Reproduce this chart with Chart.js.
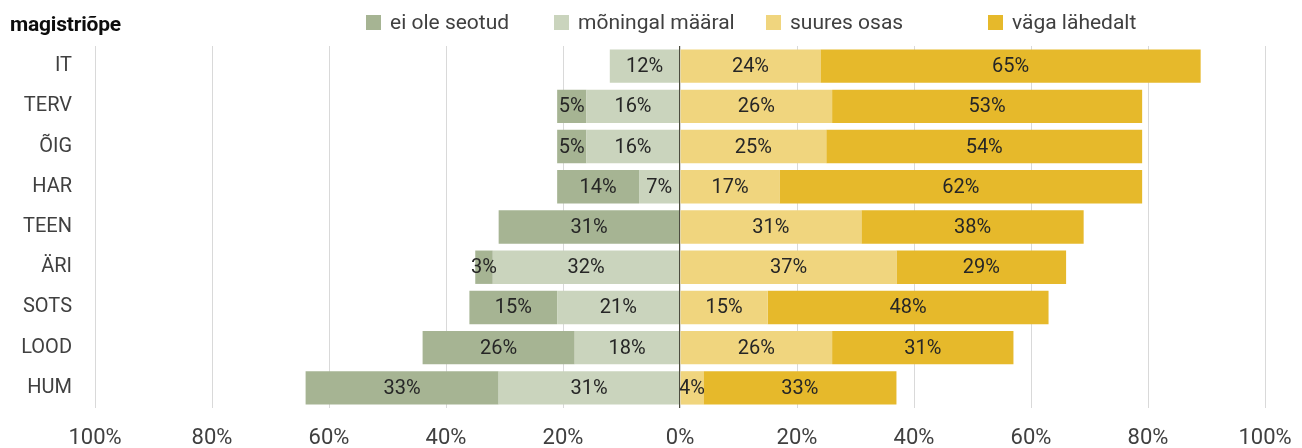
<!DOCTYPE html>
<html>
<head>
<meta charset="utf-8">
<script src="https://cdn.jsdelivr.net/npm/chart.js@4"></script>
<style>
  body { margin: 0; background: #fff; }
  #wrap { position: relative; width: 1302px; height: 448px; font-family: Roboto, sans-serif; color: #262626; }
  #title { position: absolute; left: 10px; top: 12px; font-weight: bold; font-size: 21px; color: #0d0d0d; letter-spacing: -0.2px; }
  .lg { position: absolute; top: 10px; display: flex; align-items: center; font-size: 21px; color: #404040; }
  .lg span.box { display: inline-block; width: 15px; height: 15px; margin-right: 9px; }
</style>
</head>
<body>
<div id="wrap">
  <div id="title">magistriõpe</div>
  <div id="legend"></div>
  <canvas id="graafik" width="1302" height="448"></canvas>
</div>
<script>
const kategooriad = ['IT', 'TERV', 'ÕIG', 'HAR', 'TEEN', 'ÄRI', 'SOTS', 'LOOD', 'HUM'];
const eiOleSeotud = [0, 5, 5, 14, 31, 3, 15, 26, 33];
const moningalMaaral = [12, 16, 16, 7, 0, 32, 21, 18, 31];
const suuresOsas = [24, 26, 25, 17, 31, 37, 15, 26, 4];
const vagaLahedalt = [65, 53, 54, 62, 38, 29, 48, 31, 33];
const seeriaNimed = ['ei ole seotud', 'mõningal määral', 'suures osas', 'väga lähedalt'];
const xTicks = [-100, -80, -60, -40, -20, 0, 20, 40, 60, 80, 100];

const varvid = ['#a6b493', '#cad4bd', '#f0d57e', '#e6b92b'];
const legendLeft = [366, 554, 766, 988];

// legend as html, same look as the excel one
const legendEl = document.getElementById('legend');
seeriaNimed.forEach(function (nimi, i) {
    const d = document.createElement('div');
    d.className = 'lg';
    d.style.left = legendLeft[i] + 'px';
    d.innerHTML = '<span class="box" style="background:' + varvid[i] + '"></span>' + nimi;
    legendEl.appendChild(d);
});

// values printed in the middle of each segment
const silditPlugin = {
    id: 'sildid',
    afterDatasetsDraw(chart) {
        const ctx = chart.ctx;
        ctx.save();
        ctx.font = '20px Roboto';
        ctx.fillStyle = '#262626';
        ctx.textAlign = 'center';
        ctx.textBaseline = 'middle';
        chart.data.datasets.forEach(function (ds, i) {
            const meta = chart.getDatasetMeta(i);
            meta.data.forEach(function (el, j) {
                const v = Math.abs(ds.data[j]);
                if (!v) return;
                const p = el.getProps(['x', 'base', 'y'], true);
                ctx.fillText(v + '%', (p.x + p.base) / 2, p.y + 1);
            });
        });
        // zero line on top of the bars
        const xs = chart.scales.x;
        const x0 = Math.round(xs.getPixelForValue(0)) - 0.5;
        ctx.strokeStyle = '#4d4d40';
        ctx.lineWidth = 1;
        ctx.beginPath();
        ctx.moveTo(x0, chart.chartArea.top);
        ctx.lineTo(x0, chart.chartArea.bottom);
        ctx.stroke();
        ctx.restore();
    }
};

const ctx = document.getElementById('graafik').getContext('2d');
new Chart(ctx, {
    type: 'bar',
    data: {
        labels: kategooriad,
        datasets: [
            { label: seeriaNimed[0], data: eiOleSeotud.map(v => -v), backgroundColor: varvid[0], order: 1 },
            { label: seeriaNimed[1], data: moningalMaaral.map(v => -v), backgroundColor: varvid[1], order: 0 },
            { label: seeriaNimed[2], data: suuresOsas, backgroundColor: varvid[2], order: 2 },
            { label: seeriaNimed[3], data: vagaLahedalt, backgroundColor: varvid[3], order: 3 }
        ]
    },
    options: {
        indexAxis: 'y',
        responsive: false,
        animation: false,
        barPercentage: 0.83,
        categoryPercentage: 1,
        layout: { padding: { top: 46, right: 37, left: 0, bottom: 0 } },
        plugins: {
            legend: { display: false },
            tooltip: { enabled: false }
        },
        scales: {
            x: {
                stacked: true,
                min: -100,
                max: 100,
                afterBuildTicks: function (axis) {
                    axis.ticks = xTicks.map(v => ({ value: v }));
                },
                afterFit: function (axis) {
                    axis.height = 40;
                    axis.paddingLeft = 0;
                    axis.paddingRight = 0;
                },
                border: { display: false },
                grid: { color: '#d9d9d9', drawTicks: false },
                ticks: {
                    padding: 17,
                    color: '#404040',
                    font: { family: 'Roboto', size: 22 },
                    callback: v => Math.abs(v) + '%'
                }
            },
            y: {
                stacked: true,
                afterFit: function (axis) { axis.width = 95; },
                border: { display: false },
                grid: { display: false, drawTicks: false },
                ticks: {
                    padding: 23,
                    color: '#404040',
                    font: { family: 'Roboto', size: 20 }
                }
            }
        }
    },
    plugins: [silditPlugin]
});
</script>
</body>
</html>
